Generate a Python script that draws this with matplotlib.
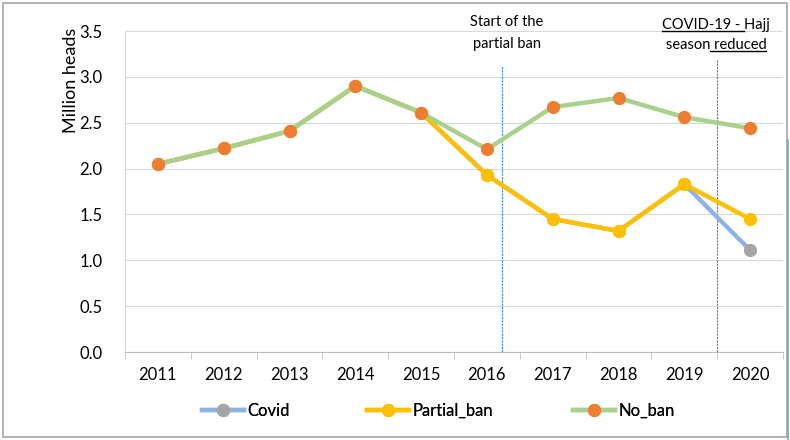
import matplotlib
matplotlib.use("Agg")
import matplotlib.pyplot as plt
from matplotlib.lines import Line2D
from matplotlib.patches import Rectangle

plt.rcParams['font.family'] = ['Lato', 'DejaVu Sans']

years = ['2011', '2012', '2013', '2014', '2015', '2016', '2017', '2018', '2019', '2020']
no_ban = [2.05, 2.22, 2.41, 2.90, 2.61, 2.21, 2.67, 2.77, 2.56, 2.44]
partial_ban = [2.05, 2.22, 2.41, 2.90, 2.61, 1.93, 1.45, 1.32, 1.83, 1.45]
covid = [2.05, 2.22, 2.41, 2.90, 2.61, 1.93, 1.45, 1.32, 1.83, 1.11]
yticks = [0.0, 0.5, 1.0, 1.5, 2.0, 2.5, 3.0, 3.5]
event_pos = [5.23, 8.5]

W, H = 790, 440
fig = plt.figure(figsize=(W / 100, H / 100), dpi=100)
ax = fig.add_axes([125 / W, 1 - 352 / H, (783 - 125) / W, (352 - 31) / H])

x = list(range(len(years)))
h1, = ax.plot(x, covid, color='#8DB4E2', lw=3.2, marker='o', ms=8.5,
              mfc='#A5A5A5', mec='#A5A5A5', label='Covid', zorder=3)
h2, = ax.plot(x, partial_ban, color='#FFC000', lw=3.2, marker='o', ms=8.5,
              mfc='#FFC000', mec='#FFC000', label='Partial_ban', zorder=4)
h3, = ax.plot(x, no_ban, color='#A9D18E', lw=3.2, marker='o', ms=8.5,
              mfc='#ED7D31', mec='#ED7D31', label='No_ban', zorder=5)

ax.set_xlim(-0.5, len(years) - 0.5)
ax.set_ylim(0, 3.5)
ax.set_yticks(yticks)
ax.set_yticklabels([f'{v:.1f}' for v in yticks], fontsize=12)
ax.set_xticks(x)
ax.set_xticklabels(years, fontsize=12)
ax.tick_params(axis='x', which='major', length=0, pad=11)
ax.set_xticks([i - 0.5 for i in range(len(years) + 1)], minor=True)
ax.tick_params(axis='x', which='minor', length=5, color='#BFBFBF', direction='out')
ax.tick_params(axis='y', length=0, pad=16)
ax.grid(axis='y', color='#D9D9D9', lw=0.8)
ax.set_axisbelow(True)
for s in ['top', 'right']:
    ax.spines[s].set_visible(False)
ax.spines['left'].set_color('#D9D9D9')
ax.spines['bottom'].set_color('#BFBFBF')
ax.set_ylabel('Million heads', fontsize=13)
ax.yaxis.set_label_coords((79 - 125) / (783 - 125), (352 - 80) / (352 - 31))

for p, ytop in zip(event_pos, [3.12, 3.2]):
    ax.plot([p, p], [0, ytop], color='#2E86DE', lw=0.8, ls=(0, (2, 1)), zorder=2)

fp = dict(fontsize=10.5, color='black')
fig.text(507 / W, 1 - 22 / H, 'Start of the', ha='center', va='center', **fp)
fig.text(507 / W, 1 - 44 / H, 'partial ban', ha='center', va='center', **fp)
t1 = fig.text(716 / W, 1 - 25 / H, 'COVID-19 - Hajj', ha='center', va='center', **fp)
t2 = fig.text(716 / W, 1 - 45 / H, 'season reduced', ha='center', va='center', **fp)

fig.canvas.draw()
r = fig.canvas.get_renderer()

def width(s):
    tmp = fig.text(0, 0, s, **fp)
    w = tmp.get_window_extent(r).width
    tmp.remove()
    return w

for t, pre, mid in [(t1, '', 'COVID-19 - '), (t2, 'season', ' reduced')]:
    bb = t.get_window_extent(r)
    x0 = bb.x0 + (width(pre) if pre else 0)
    x1 = x0 + width(mid)
    yline = bb.y0 + 1
    fig.add_artist(Line2D([x0 / W, x1 / W], [yline / H, yline / H],
                          transform=fig.transFigure, color='black', lw=1))

for h, xs in zip([h1, h2, h3], [202, 367, 573]):
    lg = fig.legend(handles=[h], loc='center left',
                    bbox_to_anchor=(xs / W, 1 - 411 / H), frameon=False,
                    fontsize=12, handlelength=2.5, handletextpad=0.2,
                    borderpad=0, borderaxespad=0)
    fig.add_artist(lg)

fig.add_artist(Rectangle((3 / W, 3 / H), (787 - 3) / W, (437 - 3) / H,
                         transform=fig.transFigure, fill=False,
                         edgecolor='#A6A6A6', lw=1.2))
fig.add_artist(Line2D([787.5 / W, 787.5 / W], [0, 1 - 140 / H],
                      transform=fig.transFigure, color='#6FA8DC', lw=1.2))

fig.savefig('out.png', dpi=100)
